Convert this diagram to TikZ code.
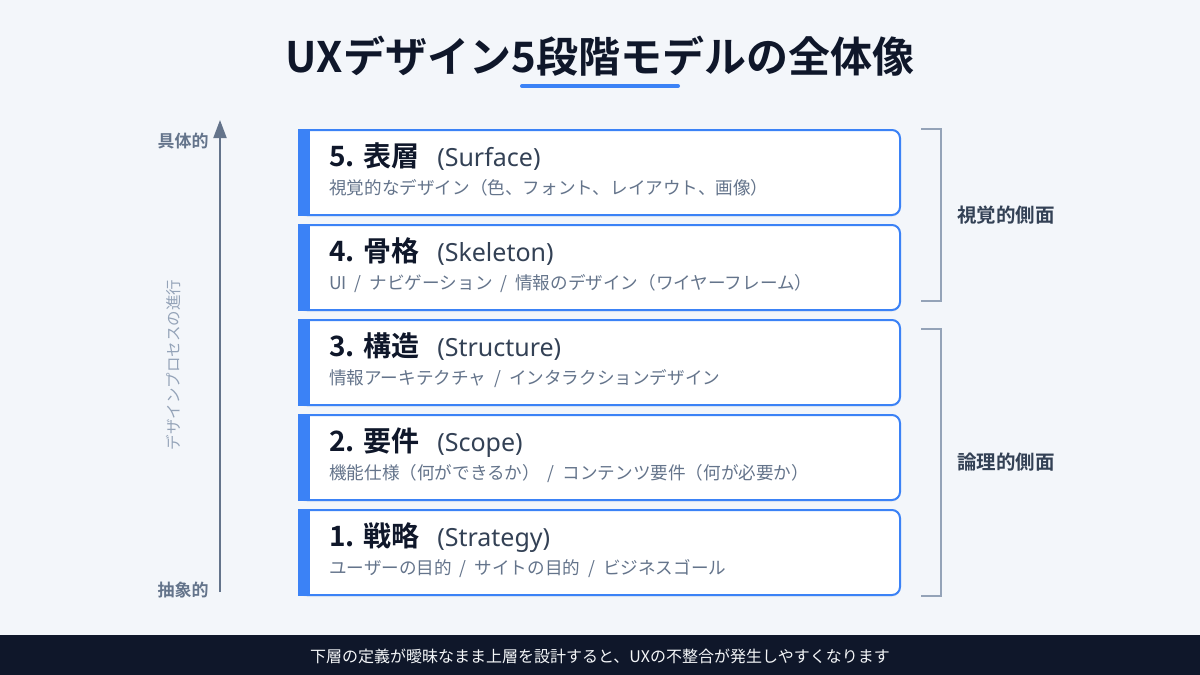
\documentclass[tikz,border=0pt]{standalone}
\usepackage{fontspec}
\setmainfont{Noto Sans CJK JP}[BoldFont={Noto Sans CJK JP Bold}]
\newfontfamily\latinfont{Noto Sans}
\usetikzlibrary{calc,arrows.meta,shadows}
\definecolor{ink}{HTML}{0F172A}
\definecolor{slate}{HTML}{334155}
\definecolor{muted}{HTML}{64748B}
\definecolor{faint}{HTML}{94A3B8}
\definecolor{accent}{HTML}{3B82F6}
\definecolor{paper}{HTML}{F3F6FA}
\newcommand{\widespace}{\spaceskip=0.45em\relax}
\tikzset{
  layer/.style={draw=accent, line width=2pt, fill=white, rounded corners=8pt,
    minimum width=601pt, minimum height=85pt, inner sep=0pt,
    drop shadow={opacity=0.06, shadow xshift=0pt, shadow yshift=-2pt}},
  head/.style={anchor=base west, inner sep=0pt, text=ink,
    font=\fontsize{28}{28}\selectfont},
  desc/.style={anchor=base west, inner sep=0pt, text=muted,
    font=\fontsize{17.6}{17.6}\selectfont, execute at begin node=\widespace},
  bracket/.style={draw=faint, line width=2pt},
  side/.style={text=slate, font=\bfseries\fontsize{19.5}{19.5}\selectfont},
  axlabel/.style={text=muted, font=\bfseries\fontsize{17}{17}\selectfont}
}
\newcommand{\en}[1]{\hspace{18pt}{\latinfont\fontsize{25}{25}\selectfont\color{slate}(#1)}}
\begin{document}
\begin{tikzpicture}[x=1pt,y=-1pt]
\useasboundingbox (0,0) rectangle (1200,675);
\fill[paper] (0,0) rectangle (1200,675);

% title
\node[text=ink, font=\bfseries\fontsize{42}{42}\selectfont] (title) at (600,56) {UXデザイン5段階モデルの全体像};
\coordinate (ulA) at (522,86);
\coordinate (ulB) at (678,86);
\draw[accent, line width=4pt, line cap=round] (ulA) -- (ulB);

% layers
\node[layer] (l5) at (599.5,172.5) {};
\node[layer] (l4) at (599.5,267.5) {};
\node[layer] (l3) at (599.5,362.5) {};
\node[layer] (l2) at (599.5,457.5) {};
\node[layer] (l1) at (599.5,552.5) {};
\foreach \l in {l5,l4,l3,l2,l1}
  \fill[accent] (\l.north west) rectangle ($(\l.south west)+(12,0)$);

\node[head] (h5) at ($(l5.north west)+(31,37)$) {\textbf{5. 表層}\en{Surface}};
\node[desc] (d5) at ($(l5.north west)+(31,65)$) {視覚的なデザイン（色、フォント、レイアウト、画像）};
\node[head] (h4) at ($(l4.north west)+(31,37)$) {\textbf{4. 骨格}\en{Skeleton}};
\node[desc] (d4) at ($(l4.north west)+(31,65)$) {UI / ナビゲーション / 情報のデザイン（ワイヤーフレーム）};
\node[head] (h3) at ($(l3.north west)+(31,37)$) {\textbf{3. 構造}\en{Structure}};
\node[desc] (d3) at ($(l3.north west)+(31,65)$) {情報アーキテクチャ / インタラクションデザイン};
\node[head] (h2) at ($(l2.north west)+(31,37)$) {\textbf{2. 要件}\en{Scope}};
\node[desc] (d2) at ($(l2.north west)+(31,65)$) {機能仕様（何ができるか） / コンテンツ要件（何が必要か）};
\node[head] (h1) at ($(l1.north west)+(31,37)$) {\textbf{1. 戦略}\en{Strategy}};
\node[desc] (d1) at ($(l1.north west)+(31,65)$) {ユーザーの目的 / サイトの目的 / ビジネスゴール};

% axis
\coordinate (axbot) at (220,592);
\coordinate (axtop) at (220,120);
\draw[muted, line width=2pt, -{Triangle[width=13pt,length=18pt]}] (axbot) -- (axtop);
\node[axlabel] (concrete) at (183,141) {具体的};
\node[axlabel] (abstract) at (183,590) {抽象的};
\node[text=faint, rotate=90, font=\fontsize{15.5}{15.5}\selectfont] (process) at (174,365) {デザインプロセスの進行};

% brackets
\coordinate (vtop) at ($(l5.north east)+(20,0)$);
\coordinate (vbot) at ($(l4.south east)+(20,-10)$);
\coordinate (ltop) at ($(l3.north east)+(20,10)$);
\coordinate (lbot) at ($(l1.south east)+(20,0)$);
\draw[bracket] (vtop) -- ++(20,0) |- (vbot);
\draw[bracket] (ltop) -- ++(20,0) |- (lbot);
\node[side] (visual) at ($(vtop)!0.5!(vbot)+(85,0)$) {視覚的側面};
\node[side] (logical) at ($(ltop)!0.5!(lbot)+(85,0)$) {論理的側面};

% footer
\fill[ink] (0,635) rectangle (1200,675);
\node[text=white!90!faint, font=\fontsize{16}{16}\selectfont] (note) at (600,656) {下層の定義が曖昧なまま上層を設計すると、UXの不整合が発生しやすくなります};
\end{tikzpicture}
\end{document}
